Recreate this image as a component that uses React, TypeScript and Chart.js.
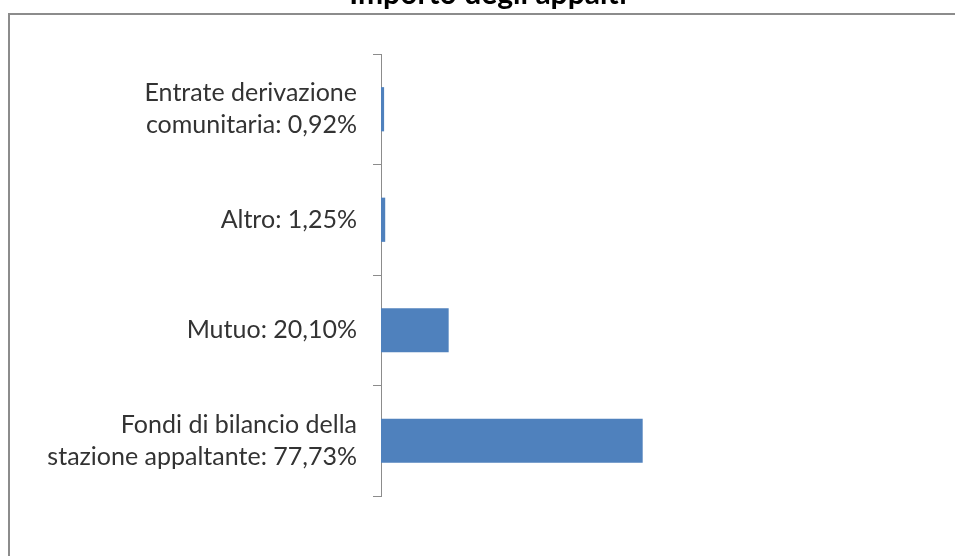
import React, { useEffect, useRef } from "react";
import { Chart, registerables } from "chart.js";

Chart.register(...registerables);

const chartTitle = "Importo degli appalti";
const categories: string[][] = [
  ["Entrate derivazione", "comunitaria: 0,92%"],
  ["Altro: 1,25%"],
  ["Mutuo: 20,10%"],
  ["Fondi di bilancio della", "stazione appaltante: 77,73%"],
];
const shares: number[] = [0.92, 1.25, 20.1, 77.73];
const axisMax = 90;

// Center the title on the whole chart (as Excel does), not on the plot region.
const centerTitlePlugin = {
  id: "centerTitle",
  afterLayout(chart: any) {
    const t = chart.titleBlock;
    if (t) {
      t.left = 0;
      t.right = 976;
    }
  },
};

export default function App() {
  const ref = useRef<HTMLCanvasElement | null>(null);
  useEffect(() => {
    document.body.style.margin = "0";
    const font = "Lato, 'Open Sans', sans-serif";
    const chart = new Chart(ref.current as HTMLCanvasElement, {
      type: "bar",
      data: {
        labels: categories,
        datasets: [
          {
            data: shares,
            backgroundColor: "#4F81BD",
            borderWidth: 0,
            categoryPercentage: 1,
            barPercentage: 0.4,
          },
        ],
      },
      plugins: [centerTitlePlugin],
      options: {
        indexAxis: "y",
        animation: false,
        responsive: false,
        maintainAspectRatio: false,
        layout: { padding: { left: 0, right: 271, top: 0, bottom: 60 } },
        plugins: {
          legend: { display: false },
          tooltip: { enabled: false },
          title: {
            display: true,
            text: chartTitle,
            color: "#000",
            font: { family: font, size: 30, weight: "bold", lineHeight: 1.2 },
            padding: { top: 6, bottom: 42 },
          },
        },
        scales: {
          x: { display: false, min: 0, max: axisMax },
          y: {
            afterFit: (scale: any) => {
              scale.width = 381;
            },
            grid: {
              display: true,
              drawOnChartArea: false,
              tickLength: 8,
              color: "#8c8c8c",
              offset: true,
            },
            border: { display: true, color: "#8c8c8c", width: 1 },
            ticks: {
              color: "#333",
              padding: 16,
              font: { family: font, size: 25, lineHeight: 1.28 },
            },
          },
        },
      },
    });
    return () => chart.destroy();
  }, []);
  return (
    <div style={{ position: "relative", width: 955, height: 556, overflow: "hidden", background: "#fff" }}>
      <div
        style={{
          position: "absolute",
          left: 8,
          top: 13,
          width: 1000,
          height: 600,
          borderLeft: "2px solid #8c8c8c",
          borderTop: "2px solid #8c8c8c",
        }}
      />
      <canvas
        ref={ref}
        width={955}
        height={586}
        style={{ position: "absolute", left: 0, top: -30, width: 955, height: 586 }}
      />
    </div>
  );
}
